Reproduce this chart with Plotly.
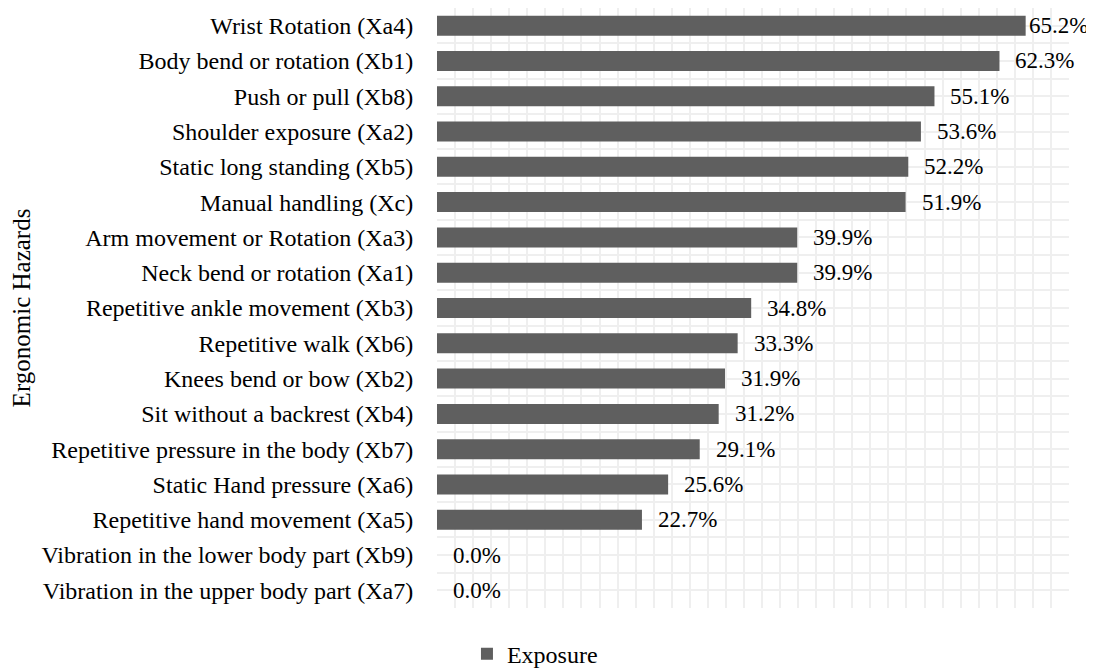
import plotly.graph_objects as go

categories = [
    "Wrist Rotation (Xa4)",
    "Body bend or rotation (Xb1)",
    "Push or pull (Xb8)",
    "Shoulder exposure (Xa2)",
    "Static long standing (Xb5)",
    "Manual handling (Xc)",
    "Arm movement or Rotation (Xa3)",
    "Neck bend or rotation (Xa1)",
    "Repetitive ankle movement (Xb3)",
    "Repetitive walk (Xb6)",
    "Knees bend or bow (Xb2)",
    "Sit without a backrest (Xb4)",
    "Repetitive pressure in the body (Xb7)",
    "Static Hand pressure (Xa6)",
    "Repetitive hand movement (Xa5)",
    "Vibration in the lower body part (Xb9)",
    "Vibration in the upper body part (Xa7)",
]
exposure = [65.2, 62.3, 55.1, 53.6, 52.2, 51.9, 39.9, 39.9, 34.8, 33.3,
            31.9, 31.2, 29.1, 25.6, 22.7, 0.0, 0.0]

series_name = "Exposure"
axis_title = "Ergonomic Hazards"

FONT = "Liberation Serif"
BAR_COLOR = "#5f5f5f"
GRID = "#efefef"

n = len(categories)
ypos = [n - 1 - i for i in range(n)]  # top category at the top

# page body adds an 8px offset; margins compensate for it
W, H = 1094, 670
ML, MR, MT, MB = 429, 33, 0, 70
XMAX = 70
plot_w = W - ML - MR
visible_right = W - 8

fig = go.Figure()
fig.add_trace(go.Bar(
    x=exposure, y=ypos, orientation="h", name=series_name,
    marker=dict(color=BAR_COLOR, line=dict(width=0)),
    showlegend=True,
))

annotations = []
for v, y in zip(exposure, ypos):
    label = f"{v:.1f}%"
    bar_end = ML + v / XMAX * plot_w
    shift = min(14, visible_right - 67 - bar_end)
    annotations.append(dict(
        x=v, y=y, xref="x", yref="y", text=label, showarrow=False,
        xanchor="left", yanchor="middle", xshift=shift,
        font=dict(family=FONT, size=23, color="#000000"),
    ))

fig.update_layout(
    width=W, height=H,
    margin=dict(l=ML, r=MR, t=MT, b=MB, autoexpand=False),
    paper_bgcolor="white", plot_bgcolor="white",
    font=dict(family=FONT, size=23, color="#000000"),
    bargap=0.433,
    annotations=annotations,
    showlegend=True,
    legend=dict(
        orientation="h", x=0.155, xanchor="center", y=-0.077, yanchor="middle",
        font=dict(family=FONT, size=24, color="#000000"),
        itemwidth=30, bgcolor="rgba(0,0,0,0)",
    ),
    xaxis=dict(
        range=[0, XMAX], dtick=2, tick0=0, showticklabels=False,
        showgrid=True, gridcolor=GRID, gridwidth=2, zeroline=False,
        showline=False, fixedrange=True,
    ),
    yaxis=dict(
        range=[-0.5, n - 0.5], tickmode="array", tickvals=ypos,
        ticktext=categories, showgrid=True, gridcolor=GRID, gridwidth=2,
        zeroline=False, showline=False,
        ticks="outside", ticklen=18, tickcolor="rgba(0,0,0,0)",
        tickfont=dict(family=FONT, size=24, color="#000000"),
        minor=dict(tickmode="linear", tick0=0.5, dtick=1, showgrid=True,
                   gridcolor=GRID, gridwidth=2, ticks=""),
        title=dict(text=axis_title, font=dict(family=FONT, size=25, color="#000000"),
                   standoff=10),
        automargin=False,
    ),
)

fig.write_html("out.html")
